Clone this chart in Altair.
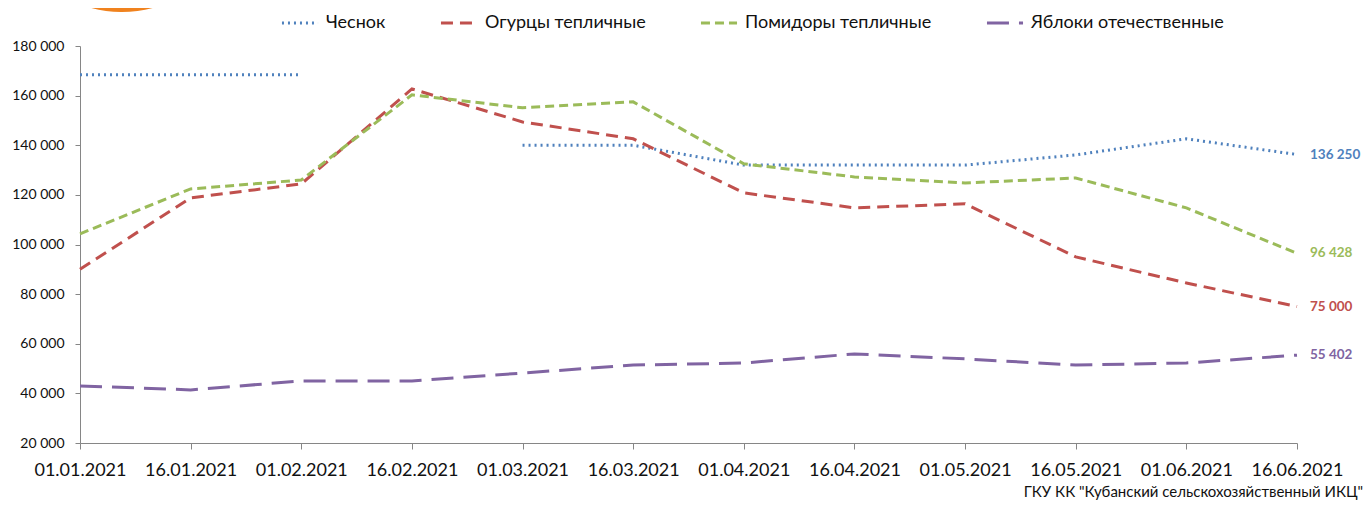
import altair as alt
import pandas as pd

dates = ["01.01.2021", "16.01.2021", "01.02.2021", "16.02.2021", "01.03.2021", "16.03.2021",
         "01.04.2021", "16.04.2021", "01.05.2021", "16.05.2021", "01.06.2021", "16.06.2021"]
series_names = ["Чеснок", "Огурцы тепличные", "Помидоры тепличные", "Яблоки отечественные"]
garlic = [168400, 168400, 168400, None, 140000, 140000, 132000, 132000, 132000, 136100, 142600, 136250]
cucumbers = [90000, 118800, 124400, 162700, 149400, 142600, 120800, 114750, 116400, 95000, 84500, 75000]
tomatoes = [104300, 122400, 126000, 160300, 155100, 157500, 132500, 127250, 124800, 126800, 114750, 96428]
apples = [43000, 41400, 45000, 45000, 48200, 51400, 52250, 55900, 53900, 51400, 52250, 55402]
source_text = 'ГКУ КК "Кубанский сельскохозяйственный ИКЦ"'

colors = ["#4F81BD", "#C0504D", "#9BBB59", "#8064A2"]
dashes = [[2, 4], [12, 7], [9, 5], [22, 10]]

rows = []
for name, vals in zip(series_names, [garlic, cucumbers, tomatoes, apples]):
    for d, v in zip(dates, vals):
        rows.append({"date": d, "series": name, "value": v})
df = pd.DataFrame(rows)

FONT = "Lato, 'Noto Sans', sans-serif"
W, H = 1217, 397

color_scale = alt.Scale(domain=series_names, range=colors)
dash_scale = alt.Scale(domain=series_names, range=dashes)

x_enc = alt.X("date:N", sort=dates, scale=alt.Scale(type="point", padding=0),
              axis=alt.Axis(title=None, labelAngle=0, labelFontSize=18, labelFont=FONT,
                            labelColor="#111111", domainColor="#868686", tickColor="#868686",
                            tickSize=6, labelPadding=12, grid=False))
y_enc = alt.Y("value:Q", scale=alt.Scale(domain=[20000, 180000], nice=False, zero=False),
              axis=alt.Axis(title=None, values=list(range(20000, 180001, 20000)),
                            labelExpr="replace(format(datum.value, ','), ',', ' ')",
                            labelFontSize=14, labelFont=FONT, labelColor="#111111",
                            domainColor="#868686", tickColor="#868686", tickSize=5,
                            labelPadding=11, grid=False))

base = alt.Chart(df).encode(x=x_enc, y=y_enc)

lines = base.mark_line(strokeWidth=3, invalid="break-paths-show-domains").encode(
    color=alt.Color("series:N", scale=color_scale,
                    legend=alt.Legend(title=None, orient="none", legendX=200, legendY=-43,
                                      direction="horizontal", symbolType="stroke",
                                      symbolSize=1300, symbolStrokeWidth=3,
                                      labelFontSize=18, labelFont=FONT, labelColor="#111111",
                                      labelLimit=400, columnPadding=48, labelOffset=6)),
    strokeDash=alt.StrokeDash("series:N", scale=dash_scale, legend=None),
)

end_labels = base.transform_filter(alt.datum.date == dates[-1]).transform_calculate(
    label="replace(format(datum.value, ','), ',', ' ')"
).mark_text(align="left", dx=13, fontWeight="bold", fontSize=13.5, font=FONT).encode(
    text="label:N",
    color=alt.Color("series:N", scale=color_scale, legend=None),
)

src = alt.Chart(pd.DataFrame({"t": [source_text]})).mark_text(
    align="right", baseline="alphabetic", fontSize=15, font=FONT, color="#111111"
).encode(text="t:N", x=alt.value(W + 66), y=alt.value(H + 54))

logo = alt.Chart(pd.DataFrame({"a": [0]})).mark_arc(
    color="#F0821E", radius=119, radius2=109, theta=2.75, theta2=3.55
).encode(x=alt.value(42), y=alt.value(-153))

chart = alt.layer(logo, lines, end_labels, src).properties(
    width=W, height=H,
    autosize=alt.AutoSizeParams(type="none"),
    padding={"left": 72, "top": 38, "right": 66, "bottom": 58},
).configure_view(stroke=None)

chart.save("out.html", embed_options={"renderer": "svg", "actions": False})
